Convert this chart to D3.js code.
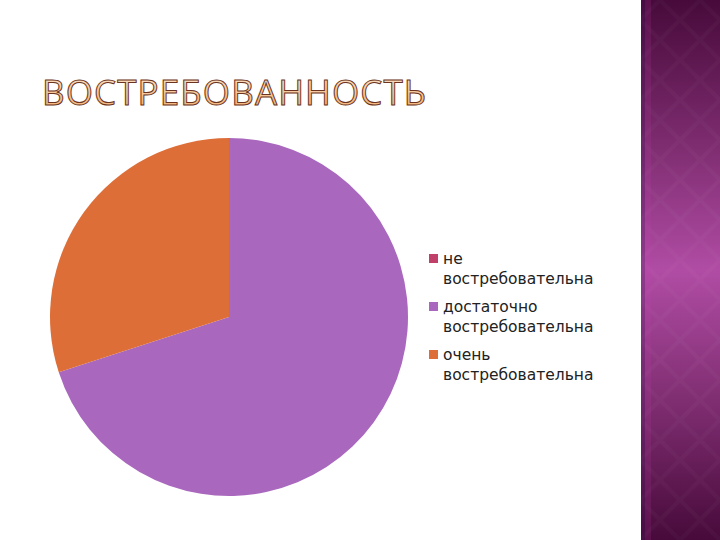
<!DOCTYPE html>
<html>
<head>
<meta charset="utf-8">
<script src="https://cdn.jsdelivr.net/npm/d3@7"></script>
<style>
  body { margin: 0; background: #fff; }
  svg { display: block; }
</style>
</head>
<body>
<script>
var categories = ["не востребовательна", "достаточно востребовательна", "очень востребовательна"];
var values = [0, 7, 3];
var legendLines = [["не", "востребовательна"], ["достаточно", "востребовательна"], ["очень", "востребовательна"]];
var colors = ["#c0406a", "#a968be", "#de6e38"];

var width = 720,
    height = 540;

var svg = d3.select("body").append("svg")
    .attr("width", width)
    .attr("height", height);

var defs = svg.append("defs");

// side panel gradient
var panelGrad = defs.append("linearGradient")
    .attr("id", "panelGrad")
    .attr("x1", 0).attr("y1", 0).attr("x2", 0).attr("y2", 1);
panelGrad.append("stop").attr("offset", "0%").attr("stop-color", "#470a3a");
panelGrad.append("stop").attr("offset", "25%").attr("stop-color", "#7a2a6c");
panelGrad.append("stop").attr("offset", "50%").attr("stop-color", "#b04ca4");
panelGrad.append("stop").attr("offset", "75%").attr("stop-color", "#7e2d70");
panelGrad.append("stop").attr("offset", "100%").attr("stop-color", "#470a3a");

var diamonds = defs.append("pattern")
    .attr("id", "diamonds")
    .attr("width", 40).attr("height", 40)
    .attr("patternUnits", "userSpaceOnUse");
diamonds.append("path")
    .attr("d", "M20,0 L40,20 L20,40 L0,20 Z")
    .attr("fill", "none")
    .attr("stroke", "rgba(255,255,255,0.025)")
    .attr("stroke-width", 4);

svg.append("rect")
    .attr("x", 641).attr("y", 0)
    .attr("width", width - 641).attr("height", height)
    .attr("fill", "url(#panelGrad)");
svg.append("rect")
    .attr("x", 641).attr("y", 0)
    .attr("width", width - 641).attr("height", height)
    .attr("fill", "url(#diamonds)");
svg.append("rect")
    .attr("x", 641).attr("y", 0)
    .attr("width", 4).attr("height", height)
    .attr("fill", "rgba(70,20,90,0.3)");
svg.append("rect")
    .attr("x", 645).attr("y", 0)
    .attr("width", 6).attr("height", height)
    .attr("fill", "rgba(200,60,180,0.15)");

// title
var titleGrad = defs.append("linearGradient")
    .attr("id", "titleGrad")
    .attr("x1", 0).attr("y1", 0).attr("x2", 0).attr("y2", 1);
titleGrad.append("stop").attr("offset", "0%").attr("stop-color", "#fdecd8");
titleGrad.append("stop").attr("offset", "100%").attr("stop-color", "#f2a765");

svg.append("text")
    .attr("x", 42)
    .attr("y", 105)
    .attr("textLength", 384)
    .attr("lengthAdjust", "spacing")
    .style("font-family", "'Open Sans', 'DejaVu Sans', sans-serif")
    .style("font-size", "35px")
    .style("font-weight", "400")
    .attr("fill", "url(#titleGrad)")
    .attr("stroke", "#6a3420")
    .attr("stroke-width", 1)
    .text("ВОСТРЕБОВАННОСТЬ");

// pie
var cx = 229, cy = 317, r = 179;

var pie = d3.pie().sort(null).value(function(d) { return d; });
var arc = d3.arc().innerRadius(0).outerRadius(r);

var g = svg.append("g").attr("transform", "translate(" + cx + "," + cy + ")");
g.selectAll("path")
    .data(pie(values))
    .enter()
    .append("path")
    .attr("d", arc)
    .attr("fill", function(d, i) { return colors[i]; });

// legend
var legendY = d3.scaleBand()
    .domain(categories)
    .range([248, 392]);

var legend = svg.append("g");
var items = legend.selectAll(".item")
    .data(categories)
    .enter()
    .append("g")
    .attr("class", "item")
    .attr("transform", function(d) { return "translate(429," + legendY(d) + ")"; });

items.append("rect")
    .attr("x", 0).attr("y", 6)
    .attr("width", 9).attr("height", 9)
    .attr("fill", function(d, i) { return colors[i]; });

items.append("text")
    .style("font-family", "'DejaVu Sans', sans-serif")
    .style("font-size", "15.5px")
    .attr("fill", "#222")
    .selectAll("tspan")
    .data(function(d, i) { return legendLines[i]; })
    .enter()
    .append("tspan")
    .attr("x", 14)
    .attr("y", function(d, j) { return 16 + j * 20; })
    .text(function(d) { return d; });
</script>
</body>
</html>
